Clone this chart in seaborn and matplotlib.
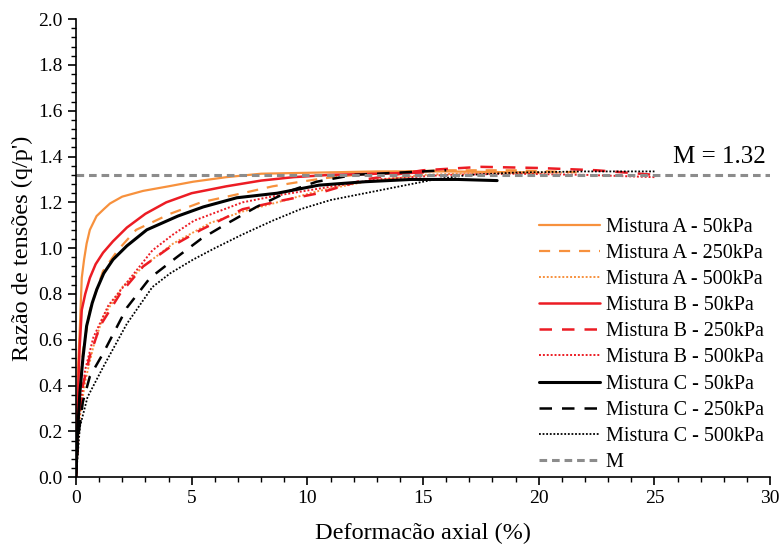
import matplotlib
matplotlib.use("Agg")
import matplotlib.pyplot as plt
import seaborn as sns
import pandas as pd
from matplotlib.ticker import MultipleLocator

sns.set_theme(style="ticks")
plt.rcParams['font.family'] = ['Liberation Serif', 'DejaVu Serif']

# ---- data ----
a50_x = [0, 0.05, 0.1, 0.17, 0.25, 0.35, 0.46, 0.6, 0.89, 1.2, 1.47, 2.0, 2.9, 4.0, 5.06, 6.5, 8.0, 10.5, 13, 16, 20]
a50_y = [0.0, 0.3, 0.5, 0.66, 0.87, 0.95, 1.02, 1.08, 1.14, 1.17, 1.195, 1.225, 1.25, 1.27, 1.29, 1.31, 1.325, 1.33, 1.335, 1.335, 1.33]

a250_x = [0, 0.1, 0.3, 0.6, 1.17, 1.8, 2.6, 4.07, 5.4, 7.2, 8.5, 9.4, 10.7, 13, 16, 19, 22]
a250_y = [0.0, 0.3, 0.55, 0.73, 0.9, 0.99, 1.08, 1.15, 1.2, 1.24, 1.27, 1.285, 1.305, 1.33, 1.34, 1.34, 1.33]

a500_x = [0, 0.15, 0.4, 0.75, 1.17, 2.0, 2.9, 4.2, 5.8, 7.2, 8.7, 10.5, 12.5, 15, 18, 21]
a500_y = [0.0, 0.25, 0.42, 0.57, 0.7, 0.83, 0.92, 1.02, 1.11, 1.16, 1.2, 1.25, 1.29, 1.32, 1.33, 1.33]

b50_x = [0, 0.03, 0.09, 0.15, 0.25, 0.4, 0.6, 0.85, 1.17, 1.6, 2.2, 3.0, 3.9, 5.0, 6.5, 8.0, 9.4, 11, 13, 15]
b50_y = [0.0, 0.2, 0.37, 0.55, 0.73, 0.80, 0.87, 0.93, 0.98, 1.03, 1.09, 1.15, 1.2, 1.24, 1.27, 1.295, 1.31, 1.32, 1.325, 1.33]

b250_x = [0, 0.1, 0.3, 0.6, 1.04, 1.9, 2.9, 4.0, 5.4, 7.2, 9.0, 10.5, 12.5, 15, 17.5, 20, 22.5, 25]
b250_y = [0.0, 0.2, 0.4, 0.53, 0.66, 0.8, 0.92, 1.0, 1.08, 1.17, 1.21, 1.24, 1.30, 1.34, 1.355, 1.35, 1.34, 1.32]

b500_x = [0, 0.15, 0.4, 0.75, 1.4, 2.2, 3.3, 4.2, 5.1, 7.2, 8.7, 10.5, 13, 16, 19, 22, 25]
b500_y = [0.0, 0.28, 0.47, 0.61, 0.75, 0.85, 0.99, 1.06, 1.12, 1.2, 1.23, 1.26, 1.30, 1.32, 1.325, 1.32, 1.31]

c50_x = [0, 0.05, 0.1, 0.17, 0.3, 0.46, 0.7, 0.9, 1.2, 1.6, 2.2, 3.06, 4.4, 5.5, 6.95, 8.7, 10.5, 12.5, 14.5, 16.5, 18.2]
c50_y = [0.0, 0.15, 0.25, 0.37, 0.52, 0.66, 0.76, 0.82, 0.89, 0.95, 1.01, 1.08, 1.14, 1.18, 1.22, 1.24, 1.275, 1.29, 1.30, 1.30, 1.295]

c250_x = [0, 0.1, 0.3, 0.6, 1.17, 2.2, 3.2, 4.35, 5.4, 6.4, 7.8, 9.25, 10.4, 12, 14, 16]
c250_y = [0.0, 0.18, 0.33, 0.44, 0.54, 0.74, 0.87, 0.96, 1.04, 1.1, 1.18, 1.25, 1.29, 1.32, 1.33, 1.34]

c500_x = [0, 0.17, 0.5, 1.17, 2.2, 3.3, 4.07, 5.06, 6.0, 7.2, 8.5, 9.7, 11, 12.5, 14, 15.5, 17, 19, 22, 25]
c500_y = [0.0, 0.22, 0.35, 0.48, 0.67, 0.83, 0.89, 0.95, 1.0, 1.06, 1.12, 1.17, 1.21, 1.24, 1.27, 1.30, 1.32, 1.33, 1.335, 1.335]

m_x = [0, 30]
m_y = [1.32, 1.32]

labels = ["Mistura A - 50kPa", "Mistura A - 250kPa", "Mistura A - 500kPa",
          "Mistura B - 50kPa", "Mistura B - 250kPa", "Mistura B - 500kPa",
          "Mistura C - 50kPa", "Mistura C - 250kPa", "Mistura C - 500kPa", "M"]

ORANGE = "#F7913D"
RED = "#EC1C24"
BLACK = "#000000"
GREY = "#8C8C8C"

series = [
    (a50_x, a50_y, ORANGE, "-", 1.6),
    (a250_x, a250_y, ORANGE, (0, (5, 4)), 1.6),
    (a500_x, a500_y, ORANGE, (0, (1, 1)), 1.4),
    (b50_x, b50_y, RED, "-", 1.8),
    (b250_x, b250_y, RED, (0, (5, 4)), 1.8),
    (b500_x, b500_y, RED, (0, (1, 1)), 1.4),
    (c50_x, c50_y, BLACK, "-", 2.2),
    (c250_x, c250_y, BLACK, (0, (5, 4)), 1.8),
    (c500_x, c500_y, BLACK, (0, (1, 1)), 1.3),
    (m_x, m_y, GREY, (0, (2.5, 1.6)), 2.2),
]

fig = plt.figure(figsize=(7.8, 5.46), dpi=100)
ax = fig.add_axes([0.0974, 0.126, 0.89, 0.839])

for (xs, ys, col, ls, lw), lab in zip(series, labels):
    df = pd.DataFrame({"x": xs, "y": ys})
    sns.lineplot(data=df, x="x", y="y", ax=ax, color=col, linestyle=ls,
                 linewidth=lw, label=lab, sort=False, estimator=None)

ax.set_xlim(0, 30)
ax.set_ylim(0, 2.0)
ax.xaxis.set_major_locator(MultipleLocator(5))
ax.xaxis.set_minor_locator(MultipleLocator(1))
ax.yaxis.set_major_locator(MultipleLocator(0.2))
ax.yaxis.set_minor_locator(MultipleLocator(0.04))
ax.set_yticklabels([f"{v:.1f}" for v in ax.get_yticks()])
ax.tick_params(axis="both", which="major", direction="out", length=6, width=1.2,
               labelsize=14, color="black", labelcolor="black")
ax.tick_params(axis="both", which="minor", direction="out", length=3.5, width=1.0, color="black")
for s in ["top", "right"]:
    ax.spines[s].set_visible(False)
for s in ["left", "bottom"]:
    ax.spines[s].set_color("black")
    ax.spines[s].set_linewidth(1.2)

ax.set_xlabel("Deformacão axial (%)", fontsize=17.5, color="black", labelpad=11)
ax.set_ylabel("Razão de tensões (q/p')", fontsize=17.5, color="black", labelpad=4)

ax.text(25.8, 1.35, "M = 1.32", fontsize=18, color="black", va="bottom", ha="left")

leg = ax.legend(loc="lower right", bbox_to_anchor=(1.008, -0.015), frameon=False,
                fontsize=14.5, handlelength=3.0, labelspacing=0.35, handletextpad=0.3,
                borderaxespad=0.2)
for t in leg.get_texts():
    t.set_color("black")

fig.savefig("out.png", dpi=100)
